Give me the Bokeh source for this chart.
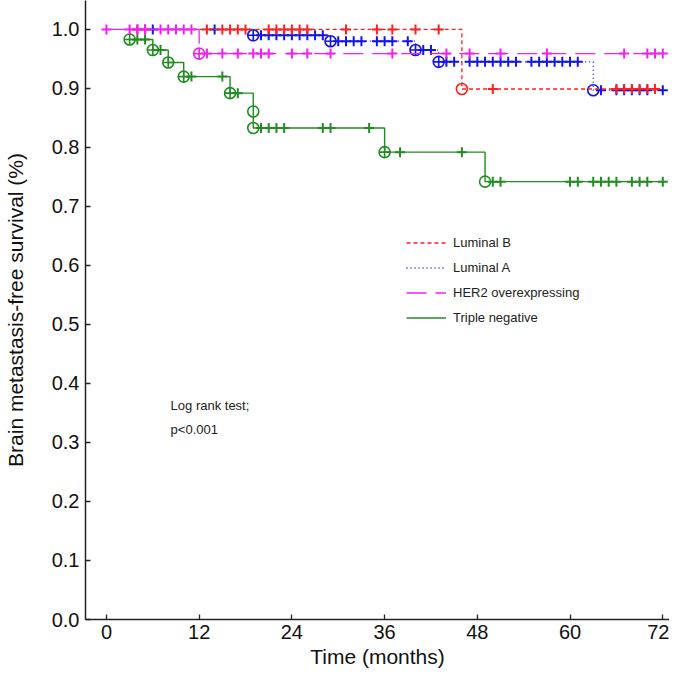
from bokeh.plotting import figure
from bokeh.models import Range1d, FixedTicker, Legend, LegendItem, NumeralTickFormatter
from bokeh.embed import file_html
from bokeh.resources import INLINE
from bokeh.core.properties import value

FONT = "Liberation Sans"

# ---------------- data ----------------
x_ticks = [0, 12, 24, 36, 48, 60, 72]
y_ticks = [0.0, 0.1, 0.2, 0.3, 0.4, 0.5, 0.6, 0.7, 0.8, 0.9, 1.0]

# Luminal B
lumB_times = [3, 46, 71]
lumB_surv = [1.0, 0.899, 0.899]
lumB_event_t = [46]
lumB_event_s = [0.899]
lumB_event_m = ["circle"]
lumB_cens = [4, 5, 13, 15, 16, 17, 18, 21, 22, 23, 24, 25, 26, 31, 35, 37, 40, 43,
             50, 66, 67, 68, 69, 70, 71]

# Luminal A
lumA_times = [3, 19, 29, 40, 43, 63, 72]
lumA_surv = [1.0, 0.990, 0.980, 0.965, 0.945, 0.897, 0.897]
lumA_event_t = [19, 29, 40, 43, 63]
lumA_event_s = [0.990, 0.980, 0.965, 0.945, 0.897]
lumA_event_m = ["circle_cross", "circle_cross", "circle_cross", "circle_cross", "circle"]
lumA_cens = [6, 14, 20, 21, 22, 23, 24, 25, 26, 27, 28, 30, 31, 32, 33, 35, 36, 37, 39,
             41, 42, 44, 45, 47, 48, 49, 50, 51, 52, 53, 55, 56, 57, 58, 59, 60, 61,
             64, 66, 67, 68, 69, 70, 72]

# HER2 overexpressing
her2_times = [0, 12, 72]
her2_surv = [1.0, 0.959, 0.959]
her2_event_t = [12]
her2_event_s = [0.959]
her2_event_m = ["circle_cross"]
her2_cens = [0, 3, 4, 5, 7, 8, 9, 10, 11, 13, 15, 17, 19, 20, 21, 24, 26, 29, 37, 44,
             47, 51, 57, 67, 70, 71, 72]

# Triple negative
tn_times = [3, 6, 8, 10, 16, 19, 36, 49, 72]
tn_surv = [0.983, 0.965, 0.944, 0.920, 0.892, 0.833, 0.792, 0.742, 0.742]
tn_event_t = [3, 6, 8, 10, 16, 19, 19, 36, 49]
tn_event_s = [0.983, 0.965, 0.944, 0.920, 0.892, 0.861, 0.833, 0.792, 0.742]
tn_event_m = ["circle_cross", "circle_cross", "circle_cross", "circle_cross", "circle_cross",
              "circle", "circle", "circle_cross", "circle"]
tn_cens = [4, 5, 7, 11, 15, 17, 20, 21, 22, 23, 28, 29, 34, 38, 46,
           50, 51, 60, 61, 63, 64, 65, 66, 68, 69, 70, 72]

groups = [
    # name, times, surv, ev_t, ev_s, ev_m, cens, color, dash, width
    ("Triple negative", tn_times, tn_surv, tn_event_t, tn_event_s, tn_event_m, tn_cens,
     "#228b22", "solid", 1.4),
    ("Luminal A", lumA_times, lumA_surv, lumA_event_t, lumA_event_s, lumA_event_m, lumA_cens,
     "#1414e6", "1 3", 1.3),
    ("Luminal B", lumB_times, lumB_surv, lumB_event_t, lumB_event_s, lumB_event_m, lumB_cens,
     "#ff2020", "4 3", 1.3),
    ("HER2 overexpressing", her2_times, her2_surv, her2_event_t, her2_event_s, her2_event_m,
     her2_cens, "#f020f0", "20 9", 1.3),
]


def step_value(times, surv, t):
    v = surv[0]
    for tt, ss in zip(times, surv):
        if tt <= t:
            v = ss
    return v


p = figure(width=669, height=672, output_backend="svg", toolbar_location=None,
           x_range=Range1d(-2.71, 72.87), y_range=Range1d(0.0, 1.049),
           min_border_left=84, min_border_right=0, min_border_top=0, min_border_bottom=53)
p.outline_line_color = None
p.xgrid.visible = False
p.ygrid.visible = False
p.background_fill_color = "white"

line_renderers = {}
for name, times, surv, ev_t, ev_s, ev_m, cens, color, dash, lw in groups:
    r = p.step(times, surv, mode="after", line_color=color, line_dash=dash, line_width=lw)
    line_renderers[name] = r
    cy = [step_value(times, surv, t) for t in cens]
    p.scatter(cens, cy, marker="cross", size=10, line_color=color, line_width=2)
    p.scatter(ev_t, ev_s, marker=ev_m, size=11, fill_color=None, line_color=color,
              line_width=1.6)

legend = Legend(items=[
    LegendItem(label="Luminal B", renderers=[line_renderers["Luminal B"]]),
    LegendItem(label="Luminal A", renderers=[line_renderers["Luminal A"]]),
    LegendItem(label="HER2 overexpressing", renderers=[line_renderers["HER2 overexpressing"]]),
    LegendItem(label="Triple negative", renderers=[line_renderers["Triple negative"]]),
], location=(321, 291))
legend.padding = 0
legend.margin = 0
legend.spacing = 4
legend.glyph_width = 40
legend.glyph_height = 21
legend.label_height = 21
legend.label_standoff = 7
legend.label_text_font = FONT
legend.label_text_font_size = "13px"
legend.label_text_color = "#222222"
legend.border_line_color = None
legend.background_fill_alpha = 0
p.add_layout(legend, "center")

p.text(x=[8.3], y=[0.363], text=["Log rank test;"], text_font=value(FONT),
       text_font_size="13px", text_align="left", text_baseline="middle", text_color="#222222")
p.text(x=[8.3], y=[0.322], text=["p<0.001"], text_font=value(FONT),
       text_font_size="13px", text_align="left", text_baseline="middle", text_color="#222222")

for ax in (p.xaxis[0], p.yaxis[0]):
    ax.axis_line_color = "#222222"
    ax.axis_line_width = 1.5
    ax.major_tick_line_color = "#222222"
    ax.major_tick_line_width = 1.3
    ax.major_tick_in = 5
    ax.major_tick_out = 0
    ax.minor_tick_line_color = None
    ax.major_label_text_font = FONT
    ax.major_label_text_font_size = "20px"
    ax.major_label_text_color = "#111111"
    ax.axis_label_text_font = FONT
    ax.axis_label_text_font_size = "21px"
    ax.axis_label_text_font_style = "normal"
    ax.axis_label_text_color = "#111111"

p.xaxis.ticker = FixedTicker(ticks=x_ticks)
p.yaxis.ticker = FixedTicker(ticks=y_ticks)
p.yaxis.formatter = NumeralTickFormatter(format="0.0")
p.xaxis.axis_label = "Time (months)"
p.yaxis.axis_label = "Brain metastasis-free survival (%)"
p.xaxis.major_label_standoff = 5
p.yaxis.major_label_standoff = 6
p.xaxis.axis_label_standoff = 3
p.yaxis.axis_label_standoff = 22

open("out.html", "w").write(file_html(p, INLINE))
